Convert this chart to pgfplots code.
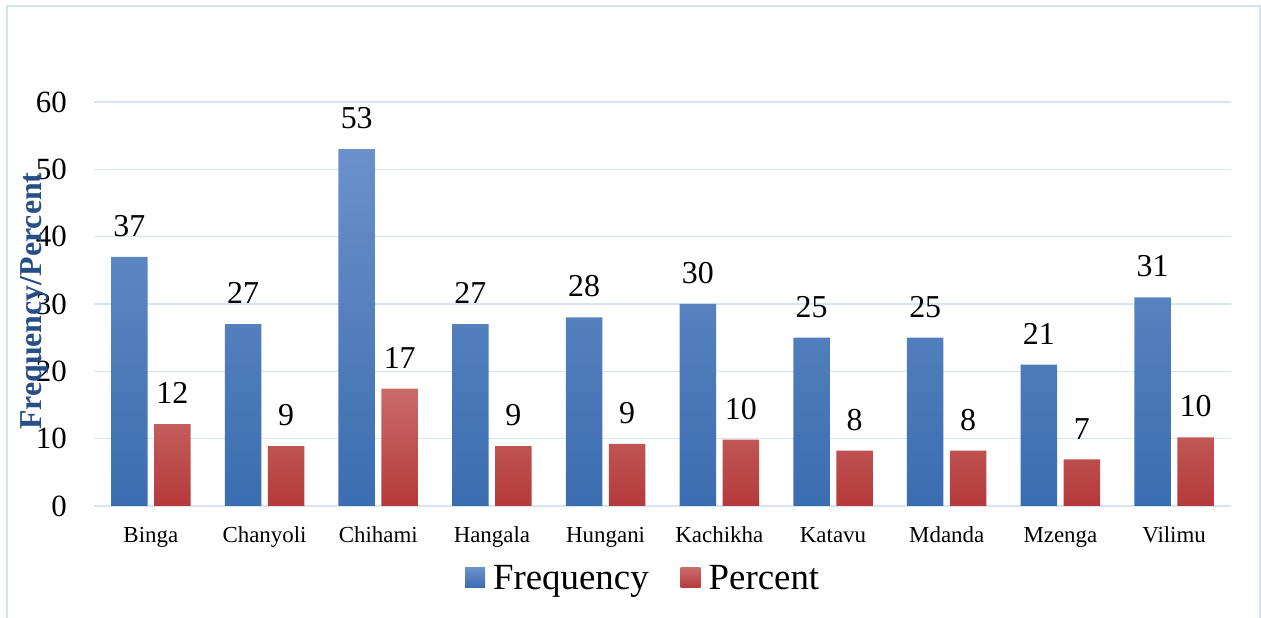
\documentclass[border=0pt]{standalone}
\usepackage{fontspec}
\setmainfont{Liberation Serif}
\usepackage{pgfplots}
\pgfplotsset{compat=1.18}

\definecolor{gridblue}{HTML}{D9E4F3}
\definecolor{framecol}{HTML}{D6E2F2}
\definecolor{bluetop}{HTML}{6B91C9}
\definecolor{bluebot}{HTML}{3A6DB0}
\definecolor{redtop}{HTML}{C96C6A}
\definecolor{redbot}{HTML}{B5393A}
\definecolor{labelblue}{HTML}{264F86}

% square legend swatch
\pgfplotsset{sqlegend/.style={legend image code/.code={\path[##1] (0bp,-10bp) rectangle (20bp,10bp);}}}

\begin{document}
\begin{tikzpicture}
\useasboundingbox (0,0) rectangle (1261bp,618bp);
\draw[framecol, line width=1.5bp] (7bp,0) -- (7bp,612bp) -- (1260bp,612bp) -- (1260bp,0);
\begin{axis}[
  at={(94bp,112bp)}, anchor=south west,
  scale only axis, width=1137bp, height=404bp,
  xmin=-0.5, xmax=9.5, ymin=0, ymax=60,
  ytick={0,10,...,60},
  xtick={0,...,9},
  xticklabels={Binga,Chanyoli,Chihami,Hangala,Hungani,Kachikha,Katavu,Mdanda,Mzenga,Vilimu},
  axis line style={draw=none},
  major tick length=0pt,
  ymajorgrids, grid style={gridblue, line width=1.6bp},
  ybar, bar width=36.5bp,
  clip=false,
  /pgf/number format/assume math mode=true,
  yticklabel style={font=\fontsize{31}{31}\selectfont, anchor=east, inner sep=0pt, xshift=-27bp},
  xticklabel style={font=\fontsize{23}{23}\selectfont, anchor=base, inner sep=0pt, yshift=-36bp},
  ylabel={Frequency/Percent},
  ylabel style={font=\fontsize{32}{32}\bfseries\selectfont, text=labelblue, at={(axis description cs:-0.0528,0.507)}, anchor=center, inner sep=0pt},
  nodes near coords,
  nodes near coords style={font=\fontsize{32}{32}\selectfont, anchor=south, inner sep=0pt, yshift=20bp,
    /pgf/number format/fixed, /pgf/number format/precision=0},
  legend style={at={(axis description cs:0.483,-0.178)}, anchor=center, draw=none, fill=none,
    legend columns=-1, font=\fontsize{37}{37}\selectfont,
    /tikz/every odd column/.append style={column sep=6bp},
    /tikz/every even column/.append style={column sep=30bp}},
]
\addplot[draw=none, top color=bluetop, bottom color=bluebot, bar shift=-21.5bp, sqlegend]
  coordinates {(0,37) (1,27) (2,53) (3,27) (4,28) (5,30) (6,25) (7,25) (8,21) (9,31)};
\addplot[draw=none, top color=redtop, bottom color=redbot, bar shift=21.5bp, sqlegend]
  coordinates {(0,12.17) (1,8.88) (2,17.43) (3,8.88) (4,9.21) (5,9.87) (6,8.22) (7,8.22) (8,6.91) (9,10.20)};
\legend{Frequency,Percent}
\end{axis}
\end{tikzpicture}
\end{document}
